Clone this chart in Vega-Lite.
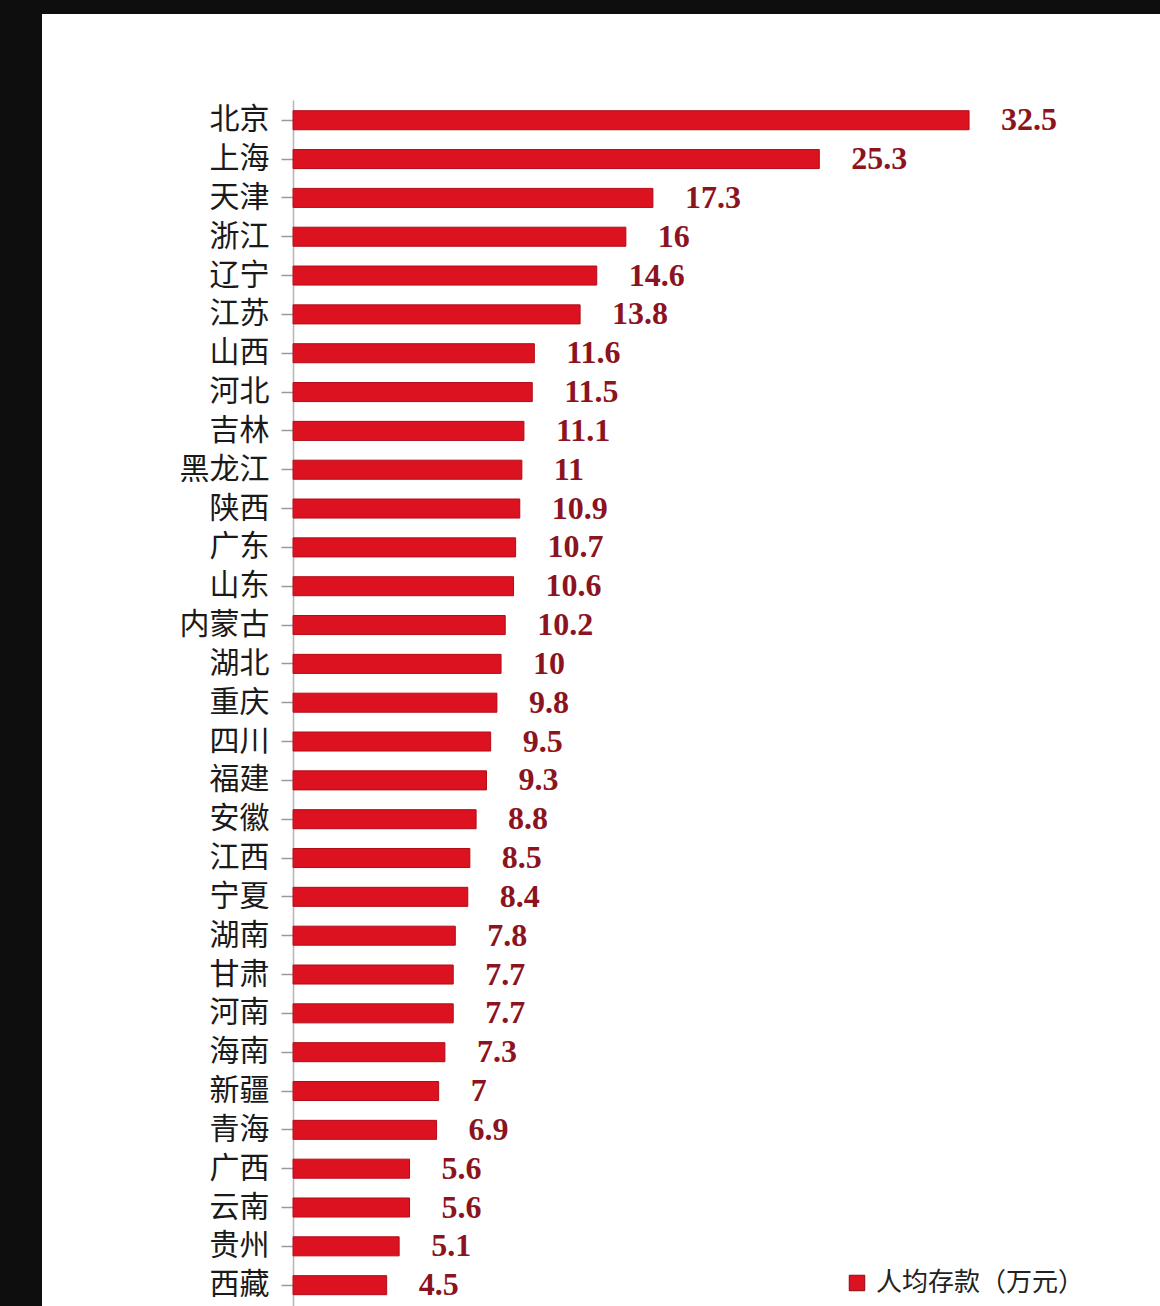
{
  "$schema": "https://vega.github.io/schema/vega-lite/v6.json",
  "width": 1118,
  "height": 1292,
  "autosize": {"type": "none"},
  "padding": {"left": 42, "top": 14, "right": 0, "bottom": 0},
  "background": "#0e0e0e",
  "config": {"view": {"fill": "white", "stroke": null}},
  "data": {"values": [
    {"prov": "北京", "value": 32.5},
    {"prov": "上海", "value": 25.3},
    {"prov": "天津", "value": 17.3},
    {"prov": "浙江", "value": 16},
    {"prov": "辽宁", "value": 14.6},
    {"prov": "江苏", "value": 13.8},
    {"prov": "山西", "value": 11.6},
    {"prov": "河北", "value": 11.5},
    {"prov": "吉林", "value": 11.1},
    {"prov": "黑龙江", "value": 11},
    {"prov": "陕西", "value": 10.9},
    {"prov": "广东", "value": 10.7},
    {"prov": "山东", "value": 10.6},
    {"prov": "内蒙古", "value": 10.2},
    {"prov": "湖北", "value": 10},
    {"prov": "重庆", "value": 9.8},
    {"prov": "四川", "value": 9.5},
    {"prov": "福建", "value": 9.3},
    {"prov": "安徽", "value": 8.8},
    {"prov": "江西", "value": 8.5},
    {"prov": "宁夏", "value": 8.4},
    {"prov": "湖南", "value": 7.8},
    {"prov": "甘肃", "value": 7.7},
    {"prov": "河南", "value": 7.7},
    {"prov": "海南", "value": 7.3},
    {"prov": "新疆", "value": 7},
    {"prov": "青海", "value": 6.9},
    {"prov": "广西", "value": 5.6},
    {"prov": "云南", "value": 5.6},
    {"prov": "贵州", "value": 5.1},
    {"prov": "西藏", "value": 4.5}
  ]},
  "encoding": {
    "y": {
      "field": "prov", "type": "nominal", "sort": null,
      "scale": {"paddingInner": 0.51, "paddingOuter": 0.276, "range": [86, 1291.4]},
      "axis": {
        "title": null, "orient": "left", "offset": -251, "domain": true,
        "domainColor": "#b5b5b5", "domainWidth": 1.5,
        "ticks": true, "tickColor": "#9a9a9a", "tickSize": 12, "tickWidth": 1.5,
        "labelFont": "Noto Sans CJK SC", "labelFontSize": 30, "labelColor": "#1a1a1a",
        "labelPadding": 12
      }
    }
  },
  "layer": [
    {
      "mark": {"type": "bar", "stroke": "#b00c16", "strokeWidth": 1},
      "encoding": {
        "x": {"field": "value", "type": "quantitative", "scale": {"domain": [-12.07, 41.68], "zero": false, "nice": false}, "axis": null},
        "color": {
          "datum": "人均存款（万元）", "type": "nominal",
          "scale": {"range": ["#dc1220"]},
          "legend": {
            "title": null, "orient": "none", "legendX": 798, "legendY": 1252,
            "symbolType": "square", "symbolSize": 240, "symbolStrokeColor": "#8a0a10", "symbolStrokeWidth": 1,
            "labelFont": "Noto Sans CJK SC", "labelFontSize": 26, "labelColor": "#222",
            "labelLimit": 400, "padding": 4, "labelOffset": 6
          }
        }
      }
    },
    {
      "mark": {"type": "text", "align": "left", "baseline": "middle", "dx": 32, "font": "Liberation Serif", "fontSize": 32, "color": "#8b1420", "fontWeight": "bold"},
      "encoding": {
        "x": {"field": "value", "type": "quantitative"},
        "text": {"field": "value", "type": "quantitative"}
      }
    }
  ]
}
